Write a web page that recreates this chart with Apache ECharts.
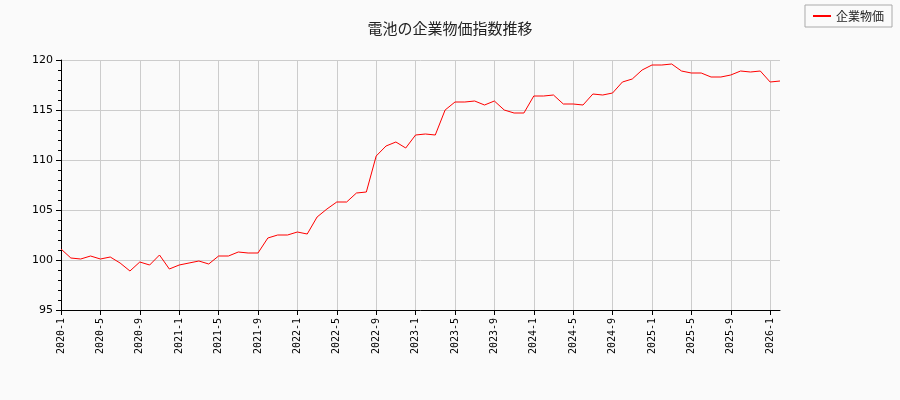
<!DOCTYPE html><html><head><meta charset="utf-8"><script src="https://cdn.jsdelivr.net/npm/echarts@6/dist/echarts.min.js"></script></head>
<body style="margin:0;background:#fafafa"><div id="c" style="width:900px;height:400px"></div><script>
const values=[101.1,100.2,100.1,100.4,100.1,100.3,99.7,98.9,99.8,99.5,100.5,99.1,
99.5,99.7,99.9,99.6,100.4,100.4,100.8,100.7,100.7,102.2,102.5,102.5,
102.8,102.6,104.3,105.1,105.8,105.8,106.7,106.8,110.4,111.4,111.8,111.2,
112.5,112.6,112.5,115.0,115.8,115.8,115.9,115.5,115.9,115.0,114.7,114.7,
116.4,116.4,116.5,115.6,115.6,115.5,116.6,116.5,116.7,117.8,118.1,119.0,
119.5,119.5,119.6,118.9,118.7,118.7,118.3,118.3,118.5,118.9,118.8,118.9,
117.8,117.9];
const categories=values.map((v,i)=>(2020+Math.floor(i/12))+'-'+(i%12+1));
const chart=echarts.init(document.getElementById('c'));
chart.setOption({backgroundColor:'#fafafa',animation:false,
title:{text:'電池の企業物価指数推移',left:'center',top:16,textStyle:{fontSize:15,fontWeight:'normal',color:'#222',fontFamily:'Noto Sans CJK JP'}},
legend:{right:8,top:5,data:['企業物価'],icon:'rect',borderColor:'#aaa',borderWidth:1,borderRadius:0,padding:[5,8],itemWidth:18,itemHeight:2,textStyle:{fontSize:12,color:'#222',fontFamily:'Noto Sans CJK JP'}},
grid:{left:61,right:120,top:60,bottom:90},
xAxis:{type:'category',boundaryGap:false,data:categories,
axisLine:{lineStyle:{color:'#000'}},axisTick:{interval:3,lineStyle:{color:'#000'}},
axisLabel:{interval:3,rotate:90,fontSize:10,color:'#000',fontFamily:'DejaVu Sans Mono'},
splitLine:{show:true,interval:3,lineStyle:{color:'#ccc'}}},
yAxis:{type:'value',min:95,max:120,interval:5,
axisLine:{show:true,lineStyle:{color:'#000'}},axisTick:{show:true,lineStyle:{color:'#000'}},
minorTick:{show:true,splitNumber:5,lineStyle:{color:'#000'}},
axisLabel:{fontSize:11,color:'#000',fontFamily:'DejaVu Sans'},splitLine:{lineStyle:{color:'#ccc'}}},
series:[{name:'企業物価',type:'line',data:values,showSymbol:false,lineStyle:{color:'#f00',width:1},itemStyle:{color:'#f00'}}]});
</script></body></html>
